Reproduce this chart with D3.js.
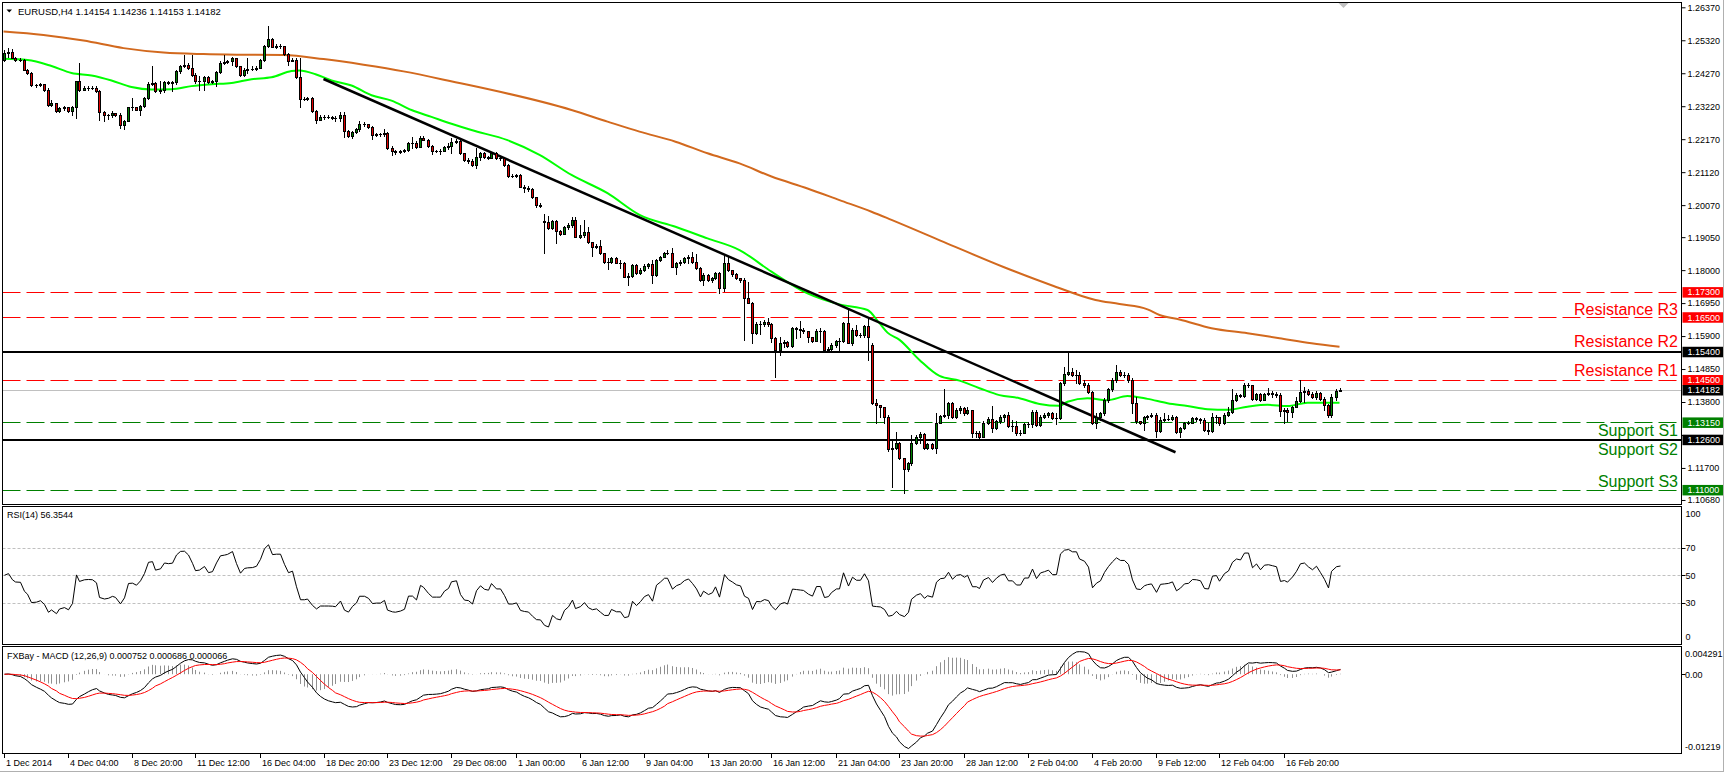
<!DOCTYPE html>
<html><head><meta charset="utf-8">
<script src="https://cdn.jsdelivr.net/npm/d3@7"></script>
<style>html,body{margin:0;padding:0;background:#fff}svg{display:block}</style>
</head><body>
<script>
// ---------------- DATA (prices x 10000) ----------------
const closes=[
12491,12496,12477,12470,12469,12438,12427,12388,12389,12392,
12374,12327,12332,12306,12316,12319,12306,12319,12401,12374,
12380,12381,12380,12369,12302,12293,12295,12300,12295,12261,
12276,12318,12319,12311,12324,12348,12393,12396,12369,12374,
12398,12396,12398,12433,12451,12452,12443,12422,12401,12403,
12415,12398,12401,12430,12459,12462,12465,12477,12449,12422,
12438,12440,12441,12445,12468,12514,12536,12512,12514,12514,
12489,12465,12470,12415,12345,12345,12347,12306,12279,12287,
12287,12287,12286,12283,12295,12242,12228,12241,12249,12265,
12265,12256,12231,12232,12232,12237,12189,12178,12176,12178,
12181,12205,12205,12191,12221,12215,12194,12180,12180,12180,
12191,12196,12209,12211,12172,12151,12149,12135,12161,12172,
12161,12158,12172,12156,12156,12135,12100,12100,12102,12066,
12060,12057,12032,12007,12005,11954,11933,11956,11926,11915,
11936,11944,11960,11907,11912,11922,11889,11875,11877,11853,
11827,11827,11840,11824,11824,11779,11781,11816,11790,11800,
11813,11818,11785,11832,11843,11856,11856,11811,11822,11827,
11838,11843,11827,11806,11769,11785,11769,11774,11790,11742,
11824,11800,11788,11774,11769,11710,11696,11599,11630,11628,
11636,11628,11583,11546,11567,11572,11559,11615,11612,11609,
11607,11586,11575,11607,11607,11546,11549,11562,11574,11574,
11633,11569,11609,11593,11593,11622,11588,11376,11370,11365,
11333,11229,11233,11251,11201,11166,11185,11248,11270,11278,
11233,11246,11233,11314,11336,11339,11376,11331,11355,11360,
11344,11355,11282,11282,11270,11312,11325,11296,11318,11333,
11339,11304,11304,11282,11282,11310,11310,11349,11307,11333,
11339,11346,11328,11328,11440,11469,11474,11466,11466,11442,
11434,11413,11312,11333,11344,11386,11420,11450,11477,11466,
11466,11450,11376,11318,11314,11331,11336,11339,11289,11323,
11325,11327,11333,11286,11296,11312,11314,11328,11327,11323,
11291,11289,11331,11333,11312,11339,11349,11386,11402,11399,
11434,11434,11389,11406,11386,11406,11408,11405,11402,11352,
11355,11349,11365,11384,11413,11416,11405,11397,11409,11391,
11370,11338,11395,11415,11418.2];
const highs=[
12502,12507,12504,12478,12475,12472,12442,12432,12392,12396,
12393,12380,12343,12332,12319,12323,12321,12323,12403,12459,
12387,12387,12385,12385,12373,12306,12298,12306,12300,12299,
12279,12319,12348,12321,12327,12351,12398,12449,12400,12401,
12401,12403,12403,12436,12454,12486,12459,12486,12427,12417,
12417,12417,12406,12433,12465,12486,12470,12480,12465,12451,
12443,12475,12449,12451,12472,12518,12576,12539,12521,12521,
12512,12493,12475,12475,12475,12351,12351,12351,12311,12295,
12293,12293,12292,12290,12302,12302,12247,12244,12252,12274,
12271,12266,12260,12237,12237,12249,12239,12194,12181,12184,
12186,12209,12224,12210,12226,12226,12219,12199,12184,12186,
12194,12205,12220,12217,12217,12174,12156,12153,12188,12177,
12177,12163,12175,12175,12161,12156,12138,12106,12106,12106,
12071,12068,12060,12034,12013,11978,11972,11960,11960,11928,
11941,11949,11968,11970,11944,11960,11938,11891,11882,11896,
11856,11838,11843,11843,11832,11827,11790,11819,11819,11806,
11819,11824,11832,11835,11846,11859,11864,11869,11827,11832,
11843,11848,11859,11850,11811,11790,11788,11779,11793,11795,
11851,11843,11793,11790,11774,11774,11763,11700,11636,11639,
11641,11646,11633,11586,11588,11577,11575,11618,11620,11638,
11615,11607,11588,11611,11615,11609,11554,11567,11577,11583,
11636,11678,11615,11625,11601,11625,11646,11567,11388,11370,
11365,11339,11259,11286,11254,11201,11190,11275,11275,11286,
11280,11251,11251,11346,11339,11420,11381,11379,11360,11367,
11365,11363,11355,11288,11289,11318,11331,11367,11323,11338,
11342,11349,11323,11318,11291,11314,11316,11355,11355,11339,
11344,11349,11349,11344,11445,11493,11535,11487,11482,11475,
11450,11440,11416,11344,11349,11392,11424,11455,11498,11482,
11474,11471,11455,11397,11321,11336,11339,11344,11344,11331,
11344,11339,11339,11336,11302,11316,11321,11331,11331,11328,
11328,11314,11344,11339,11318,11344,11365,11420,11408,11405,
11440,11440,11434,11410,11408,11410,11424,11416,11413,11408,
11360,11360,11367,11395,11450,11427,11423,11413,11415,11413,
11397,11373,11407,11423,11423.6];
const lows=[
12465,12480,12475,12466,12465,12436,12424,12385,12382,12385,
12372,12324,12324,12302,12302,12309,12303,12295,12284,12369,
12374,12374,12377,12366,12279,12274,12282,12287,12290,12252,
12249,12274,12311,12309,12295,12319,12345,12390,12366,12364,
12368,12392,12369,12393,12427,12446,12440,12417,12396,12374,
12374,12396,12396,12385,12427,12457,12459,12453,12446,12419,
12419,12427,12436,12438,12443,12465,12512,12510,12507,12507,
12486,12454,12465,12412,12321,12341,12343,12302,12268,12281,
12282,12283,12282,12276,12276,12224,12224,12221,12237,12244,
12258,12252,12217,12226,12226,12228,12185,12168,12171,12173,
12175,12178,12189,12188,12203,12213,12191,12170,12175,12171,
12178,12185,12174,12206,12170,12148,12142,12132,12124,12151,
12158,12154,12159,12153,12151,12132,12098,12096,12098,12064,
12050,12053,12029,12002,12000,11856,11930,11930,11887,11912,
11915,11930,11936,11904,11901,11904,11885,11846,11872,11850,
11824,11803,11824,11822,11806,11777,11753,11779,11787,11787,
11797,11806,11760,11782,11830,11841,11851,11809,11787,11816,
11822,11824,11824,11803,11766,11753,11766,11763,11771,11726,
11735,11797,11782,11771,11763,11577,11694,11567,11597,11597,
11622,11622,11572,11461,11530,11554,11556,11556,11583,11588,
11601,11572,11572,11580,11572,11544,11540,11546,11556,11546,
11570,11567,11562,11590,11588,11586,11514,11374,11312,11331,
11312,11225,11110,11229,11197,11091,11161,11179,11246,11248,
11229,11231,11229,11219,11312,11331,11328,11328,11328,11346,
11339,11342,11270,11268,11264,11267,11310,11286,11293,11314,
11321,11302,11288,11275,11275,11296,11302,11302,11304,11304,
11328,11331,11325,11310,11326,11434,11466,11463,11440,11438,
11429,11410,11310,11296,11323,11339,11381,11416,11445,11463,
11459,11445,11346,11314,11310,11291,11325,11331,11268,11286,
11321,11323,11323,11282,11270,11293,11310,11312,11321,11314,
11288,11278,11286,11314,11307,11310,11336,11346,11384,11395,
11397,11427,11386,11386,11384,11392,11402,11397,11397,11336,
11314,11318,11331,11363,11381,11381,11402,11393,11391,11386,
11354,11331,11333,11386,11415.3];
// opens equal the previous close except at these bars (gaps)
const openOverrides=[[0,12470],[135,11956],[217,11562],[334,11415.4]];
// moving averages: [bar, price x 10000]
const maFastPts=[[0,12473],[6,12469],[12,12450],[17,12428],[22,12420],[27,12404],[32,12383],[37,12375],[42,12376],[47,12386],[52,12392],[57,12396],[62,12408],[67,12414],[72,12434],[74,12436],[78,12424],[82,12404],[87,12388],[92,12357],[97,12340],[102,12310],[107,12288],[112,12266],[117,12246],[126,12214],[134,12167],[142,12103],[151,12045],[159,11976],[168,11938],[176,11901],[184,11864],[192,11795],[201,11726],[209,11691],[216,11673],[219,11631],[221,11601],[224,11578],[229,11514],[234,11463],[239,11448],[244,11424],[249,11402],[254,11392],[259,11374],[264,11368],[266,11381],[271,11392],[276,11386],[281,11399],[286,11390],[291,11376],[296,11367],[301,11357],[306,11355],[311,11365],[316,11371],[321,11367],[326,11378],[334,11378]];
const maSlowPts=[[0,12560],[10,12549],[20,12531],[30,12507],[40,12493],[50,12488],[60,12486],[70,12485],[80,12472],[90,12454],[100,12433],[111,12404],[142,12310],[151,12273],[159,12241],[168,12209],[176,12172],[184,12140],[192,12098],[201,12060],[209,12023],[217,11986],[222,11960],[235,11890],[250,11810],[262,11752],[273,11705],[279,11692],[286,11675],[289,11657],[294,11643],[302,11615],[311,11599],[319,11583],[327,11567],[334,11556]];
const trendPts=[[80,1.24087],[293,1.1220]];
const xTickBars=[0,16,32,48,64,80,96,112,128,144,160,176,192,208,224,240,256,272,288,304,320];
const xTickLabels=['1 Dec 2014','4 Dec 04:00','8 Dec 20:00','11 Dec 12:00','16 Dec 04:00','18 Dec 20:00','23 Dec 12:00','29 Dec 08:00','1 Jan 00:00','6 Jan 12:00','9 Jan 04:00','13 Jan 20:00','16 Jan 12:00','21 Jan 04:00','23 Jan 20:00','28 Jan 12:00','2 Feb 04:00','4 Feb 20:00','9 Feb 12:00','12 Feb 04:00','16 Feb 20:00'];
const priceTicks=[1.26370,1.25320,1.24270,1.23220,1.22170,1.21120,1.20070,1.19050,1.18000,1.16950,1.15900,1.14850,1.13800,1.12750,1.11700,1.10680];
const hiddenTickLabels=[1.12750]; // covered by the 1.12600 price box in the reference
const levelValues=[1.1730,1.1650,1.1540,1.1450,1.1315,1.1260,1.1100];
const levelKinds=['res','res','key','res','sup','key','sup'];
const levelTexts=['','Resistance R3','Resistance R2','Resistance R1','Support S1','Support S2','Support S3'];
const levelTextGroup=['res','res','res','res','sup','sup','sup'];
const currentPrice=1.14182;
const rsiLevels=[70,50,30];
const rsiTicks=[100,70,50,30,0];
const macdTicks=[0.004291,0,-0.01219];
const macdTickLabels=['0.004291','0.00','-0.01219'];
const titleText='EURUSD,H4 1.14154 1.14236 1.14153 1.14182';
const rsiTitle='RSI(14) 56.3544';
const macdTitle='FXBay - MACD (12,26,9) 0.000752 0.000686 0.000066';

// ---------------- LAYOUT / STYLE ----------------
const W=1725,H=774;
const L=2.5,R=1681.5;
const main={t:2.5,b:504.5}, rsiP={t:506.5,b:644.5}, macdP={t:646.5,b:753.5};
const FONT='"Liberation Sans", Arial, sans-serif';
const col={res:'#ff0000',sup:'#008000',key:'#000000'};
const levelTextDy=[0,-2.5,-5,-4.5,14,15,-2.5];

const svg=d3.select('body').append('svg').attr('width',W).attr('height',H)
  .style('font-family',FONT);
svg.append('rect').attr('width',W).attr('height',H).attr('fill','#fff');

const n=closes.length;
const C=closes.map(v=>v/1e4), Hh=highs.map(v=>v/1e4), Lw=lows.map(v=>v/1e4);
const O=C.map((v,i)=>i?C[i-1]:v);
openOverrides.forEach(([i,v])=>O[i]=v/1e4);

const x=d3.scaleLinear().domain([0,334]).range([3.5,1339.5]);
const yP=d3.scaleLinear().domain([1.10552,1.26523]).range([504,2.5]);
const yR=d3.scaleLinear().domain([0,100]).range([644,506.5]);
const yM=d3.scaleLinear().domain([-0.01219,0.004291]).range([753,646.5]);
const px=i=>Math.round(x(i))+0.5;

const defs=svg.append('defs');
function clip(id,p){defs.append('clipPath').attr('id',id).append('rect')
  .attr('x',L).attr('y',p.t).attr('width',R-L).attr('height',p.b-p.t);}
clip('cm',main);clip('cr',rsiP);clip('cd',macdP);

// ---------- MAIN PANEL ----------
const gM=svg.append('g').attr('clip-path','url(#cm)');
levelValues.forEach((v,k)=>{
  const y=Math.round(yP(v))+(levelKinds[k]==='key'?0:0.5);
  const ln=gM.append('line').attr('x1',L).attr('x2',R).attr('y1',y).attr('y2',y)
    .attr('stroke',col[levelKinds[k]]);
  if(levelKinds[k]==='key') ln.attr('stroke-width',2);
  else ln.attr('stroke-width',1).attr('stroke-dasharray','18,6');
});
gM.append('line').attr('x1',L).attr('x2',R)
  .attr('y1',Math.round(yP(currentPrice))+0.5).attr('y2',Math.round(yP(currentPrice))+0.5)
  .attr('stroke','#c0c0c0');
const maLine=d3.line().x(d=>x(d[0])).y(d=>yP(d[1]/1e4)).curve(d3.curveMonotoneX);
gM.append('path').attr('d',maLine(maSlowPts)).attr('fill','none').attr('stroke','#d2691e').attr('stroke-width',2);
gM.append('path').attr('d',maLine(maFastPts)).attr('fill','none').attr('stroke','#00ff00').attr('stroke-width',2);
gM.append('line').attr('x1',x(trendPts[0][0])).attr('y1',yP(trendPts[0][1]))
  .attr('x2',x(trendPts[1][0])).attr('y2',yP(trendPts[1][1]))
  .attr('stroke','#000').attr('stroke-width',2.5);
const gC=gM.append('g');
for(let i=0;i<n;i++){
  const cx=px(i);
  gC.append('line').attr('x1',cx).attr('x2',cx)
    .attr('y1',Math.round(yP(Hh[i]))).attr('y2',Math.round(yP(Lw[i]))+1)
    .attr('stroke','#000');
  const yt=Math.round(yP(Math.max(O[i],C[i]))), yb=Math.round(yP(Math.min(O[i],C[i])));
  if(yb-yt<1){
    gC.append('line').attr('x1',cx-1.5).attr('x2',cx+1.5).attr('y1',yt+0.5).attr('y2',yt+0.5).attr('stroke','#000');
  } else {
    gC.append('rect').attr('x',cx-1).attr('width',2).attr('y',yt+0.5).attr('height',yb-yt)
      .attr('fill',C[i]>=O[i]?'#008000':'#e00000').attr('stroke','#000').attr('stroke-width',1);
  }
}
levelValues.forEach((v,k)=>{
  if(!levelTexts[k]) return;
  svg.append('text').attr('x',1678).attr('y',yP(v)+levelTextDy[k])
    .attr('text-anchor','end').attr('font-size',16)
    .attr('fill',levelTextGroup[k]==='sup'?'#008000':'#ff0000').text(levelTexts[k]);
});
svg.append('path').attr('d','M6.5,9.5 L12,9.5 L9.25,12.5 Z').attr('fill','#000');
svg.append('text').attr('x',18).attr('y',14.5).attr('font-size',9.5).attr('fill','#000').text(titleText);
svg.append('path').attr('d','M1338.5,3 L1348.5,3 L1343.5,8 Z').attr('fill','#c0c0c0');

// ---------- RSI ----------
const ch=C.map((v,i)=>i?v-C[i-1]:0);
let seed=d3.mean(ch.slice(1,15).map(Math.abs))/2, ag=seed, al=seed;
const rsi=[50];
for(let i=1;i<n;i++){
  const g=Math.max(ch[i],0), l=Math.max(-ch[i],0);
  ag=(ag*13+g)/14; al=(al*13+l)/14;
  rsi.push(al===0?100:100-100/(1+ag/al));
}
const gR=svg.append('g').attr('clip-path','url(#cr)');
rsiLevels.forEach(v=>{
  const y=Math.round(yR(v))+0.5;
  gR.append('line').attr('x1',L).attr('x2',R).attr('y1',y).attr('y2',y)
    .attr('stroke','#c0c0c0').attr('stroke-dasharray','3,2');
});
gR.append('path').attr('d',d3.line().x((d,i)=>px(i)).y(d=>yR(d))(rsi))
  .attr('fill','none').attr('stroke','#000').attr('stroke-width',1);
svg.append('text').attr('x',7).attr('y',518).attr('font-size',9).text(rsiTitle);

// ---------- MACD ----------
const ema=(arr,p)=>{const k=2/(p+1);let e=arr[0];return arr.map((v,i)=>i?(e=v*k+e*(1-k)):e);};
const e12=ema(C,12), e26=ema(C,26);
const macd=e12.map((v,i)=>v-e26[i]);
const sig=ema(macd,9);
const hist=macd.map((v,i)=>v-sig[i]);
const gD=svg.append('g').attr('clip-path','url(#cd)');
hist.forEach((v,i)=>{
  gD.append('line').attr('x1',px(i)).attr('x2',px(i))
    .attr('y1',yM(0)).attr('y2',yM(v)).attr('stroke','#909090');
});
gD.append('path').attr('d',d3.line().x((d,i)=>px(i)).y(d=>yM(d))(macd))
  .attr('fill','none').attr('stroke','#000').attr('stroke-width',1);
gD.append('path').attr('d',d3.line().x((d,i)=>px(i)).y(d=>yM(d))(sig))
  .attr('fill','none').attr('stroke','#ff0000').attr('stroke-width',1);
svg.append('text').attr('x',7).attr('y',659).attr('font-size',9).text(macdTitle);

// ---------- FRAMES ----------
[main,rsiP,macdP].forEach(p=>{
  svg.append('rect').attr('x',L).attr('y',p.t).attr('width',R-L).attr('height',p.b-p.t)
    .attr('fill','none').attr('stroke','#000');
});
svg.append('line').attr('x1',1723.5).attr('x2',1723.5).attr('y1',0).attr('y2',772).attr('stroke','#b0b0b0');
svg.append('line').attr('x1',0).attr('x2',1724).attr('y1',771.5).attr('y2',771.5).attr('stroke','#b0b0b0');

// ---------- AXES ----------
const fmt5=d3.format('.5f');
const axMain=d3.axisRight(yP).tickValues(priceTicks)
  .tickFormat(d=>hiddenTickLabels.includes(d)?'':fmt5(d)).tickSize(4).tickPadding(2);
const gA=svg.append('g').attr('transform',`translate(${R},0)`).call(axMain);
gA.select('.domain').remove();
gA.selectAll('text').attr('font-size',9).attr('font-family',FONT).attr('fill','#000');
gA.selectAll('line').attr('stroke','#000');

const boxVals=levelValues.concat([currentPrice]);
const boxCols=levelKinds.map(k=>k==='res'?'#ff0000':k==='sup'?'#008000':'#000000').concat(['#000000']);
boxVals.forEach((v,k)=>{
  const y=yP(v);
  svg.append('rect').attr('x',1682.5).attr('y',y-5).attr('width',40.5).attr('height',10.5).attr('fill',boxCols[k]);
  svg.append('text').attr('x',1687.5).attr('y',y+3.3).attr('font-size',9).attr('fill','#fff').text(fmt5(v));
});

const rsiLabelY=v=>v===100?yR(v)+7.5:v===0?yR(v)-7:yR(v);
rsiTicks.forEach(v=>{
  if(v!==100&&v!==0) svg.append('line').attr('x1',R).attr('x2',R+4).attr('y1',Math.round(yR(v))+0.5).attr('y2',Math.round(yR(v))+0.5).attr('stroke','#000');
  svg.append('text').attr('x',1685.5).attr('y',rsiLabelY(v)+3.3).attr('font-size',9).text(v);
});
const macdLabelY=(v,k)=>k===0?yM(v)+7:k===2?yM(v)-6.5:yM(v);
macdTicks.forEach((v,k)=>{
  if(k===1) svg.append('line').attr('x1',R).attr('x2',R+4).attr('y1',Math.round(yM(v))+0.5).attr('y2',Math.round(yM(v))+0.5).attr('stroke','#000');
  svg.append('text').attr('x',1685).attr('y',macdLabelY(v,k)+3.3).attr('font-size',9).text(macdTickLabels[k]);
});

xTickBars.forEach((b,k)=>{
  const xx=px(b);
  svg.append('line').attr('x1',xx).attr('x2',xx).attr('y1',753.5).attr('y2',758).attr('stroke','#000');
  svg.append('text').attr('x',xx+1.5).attr('y',766).attr('font-size',9).text(xTickLabels[k]);
});
</script>
</body></html>
